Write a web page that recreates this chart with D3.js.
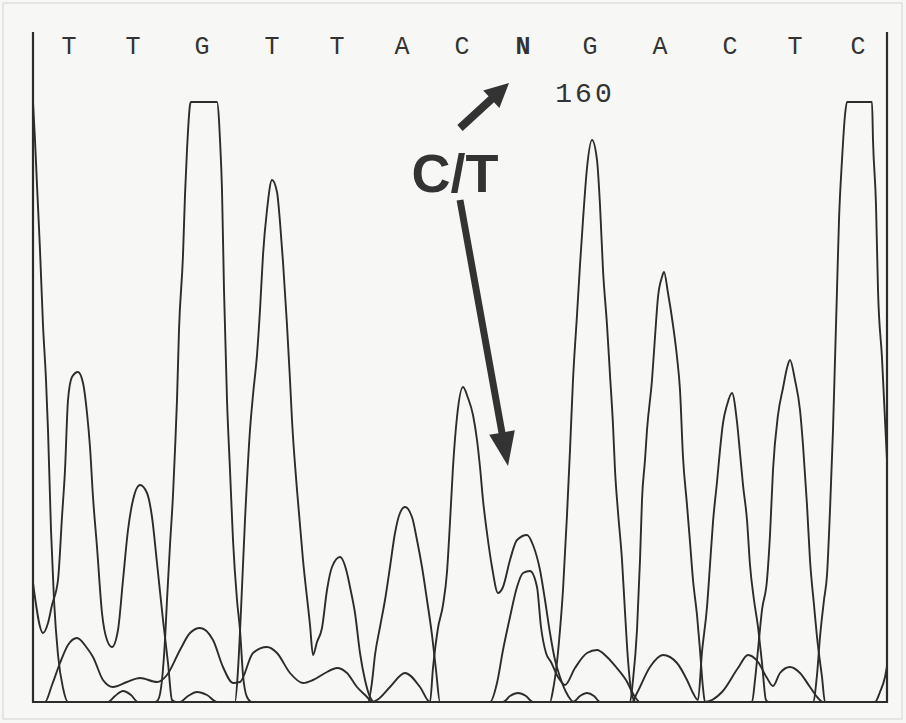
<!DOCTYPE html>
<html>
<head>
<meta charset="utf-8">
<script src="https://cdn.jsdelivr.net/npm/d3@7"></script>
<style>
  body { margin: 0; background: #f7f7f5; }
  svg { display: block; }
</style>
</head>
<body>
<svg id="chart" width="906" height="723"></svg>
<script>
// Called bases along the top and the scan where each one sits
var baseCalls = ["T", "T", "G", "T", "T", "A", "C", "N", "G", "A", "C", "T", "C"];
var basePositions = [36, 100, 169, 239, 304, 369, 429, 490, 557, 627, 697, 762, 825];

// Base number label
var tickLabels = [{ text: "160", scan: 552 }];

// Four dye traces, [scan, intensity]; 600 is the detector ceiling
var traceT = [
  [0, 119], [10, 69], [15, 79], [19, 97], [25, 122], [29, 185], [32, 232], [35, 302],
  [39, 325], [45, 330], [50, 319], [54, 289], [57, 255], [60, 205], [64, 155], [69, 89],
  [74, 62], [79, 55], [85, 72], [90, 122], [95, 172], [100, 202], [107, 217], [114, 209],
  [119, 185], [124, 139], [130, 82], [135, 39], [139, 2], [143, 0],
  [202, 0], [205, 32], [208, 92], [212, 182], [217, 272], [220, 307], [224, 347], [227, 392],
  [230, 447], [234, 492], [239, 522], [244, 510], [247, 480], [250, 440], [254, 377],
  [257, 322], [259, 282], [264, 212], [270, 142], [277, 77], [280, 47], [284, 60], [289, 74],
  [294, 112], [299, 135], [307, 145], [314, 129], [317, 115], [322, 89], [327, 49], [332, 22],
  [337, 5], [341, 0],
  [457, 0], [464, 19], [470, 52], [477, 85], [484, 115], [490, 129], [497, 131], [504, 115],
  [508, 75], [513, 49], [518, 40], [525, 25], [532, 17], [542, 34], [554, 49], [564, 52],
  [574, 45], [583, 35], [593, 22], [602, 5], [607, 0],
  [719, 0], [722, 22], [725, 52], [729, 92], [734, 122], [737, 167], [740, 232], [745, 287],
  [750, 314], [754, 334], [757, 342], [762, 322], [767, 292], [770, 257], [774, 197],
  [777, 142], [781, 97], [784, 65], [789, 25], [792, 0], [854, 0]
];

var traceC = [
  [0, 0], [12, 0], [19, 17], [27, 39], [35, 57], [44, 64], [54, 54], [60, 45], [70, 22],
  [80, 15], [94, 20], [107, 24], [124, 20], [134, 27], [147, 52], [157, 69], [167, 74],
  [180, 62], [190, 35], [200, 19], [207, 20], [220, 49], [234, 55], [244, 49], [257, 29],
  [270, 19], [280, 22], [294, 30], [304, 34], [314, 29], [324, 15], [334, 5], [339, 0],
  [344, 2], [357, 15], [372, 29], [387, 15], [397, 0],
  [400, 34], [405, 74], [410, 97], [414, 130], [417, 180], [420, 235], [424, 285], [430, 315],
  [435, 304], [440, 287], [444, 262], [447, 235], [450, 202], [454, 169], [459, 135],
  [465, 109], [470, 115], [477, 142], [484, 162], [494, 167], [500, 157], [507, 132],
  [512, 102], [517, 69], [522, 42], [527, 25], [533, 10], [541, 0],
  [599, 0], [604, 9], [617, 35], [630, 47], [644, 39], [654, 22], [660, 9], [665, 2],
  [669, 50], [674, 95], [677, 137], [680, 180], [684, 220], [687, 252], [690, 279], [694, 297],
  [699, 309], [704, 280], [707, 249], [710, 217], [714, 182], [717, 137], [721, 102],
  [725, 75], [729, 39], [733, 2], [736, 0],
  [780, 0], [784, 27], [787, 65], [791, 102], [794, 127], [797, 192], [800, 272], [802, 342],
  [804, 412], [806, 482], [809, 542], [812, 587], [814, 600], [839, 600], [840, 562],
  [843, 497], [845, 412], [849, 344], [852, 282], [854, 242], [857, 182]
];

var traceG = [
  [0, 600], [2, 562], [4, 517], [7, 452], [10, 377], [13, 322], [15, 272], [18, 172],
  [21, 102], [25, 47], [30, 14], [35, 0],
  [122, 0], [125, 2], [129, 22], [132, 62], [134, 102], [137, 157], [140, 207], [142, 252],
  [144, 302], [146, 372], [150, 447], [152, 507], [154, 552], [157, 597], [158, 600],
  [184, 600], [186, 582], [187, 562], [189, 512], [191, 412], [194, 302], [197, 232],
  [200, 162], [204, 102], [207, 72], [210, 27], [214, 5], [219, 0],
  [517, 0], [520, 12], [524, 40], [527, 72], [530, 112], [534, 187], [537, 252], [540, 322],
  [544, 387], [547, 437], [550, 482], [554, 534], [559, 562], [564, 542], [567, 497],
  [570, 432], [574, 377], [577, 327], [580, 277], [582, 232], [585, 190], [589, 142],
  [592, 90], [595, 42], [599, 7], [603, 0],
  [672, 0], [689, 10], [705, 34], [715, 47], [725, 40], [734, 24], [740, 16], [747, 29],
  [757, 35], [767, 29], [777, 15], [785, 4], [790, 0], [854, 0]
];

var traceA = [
  [0, 0], [75, 0], [82, 6], [90, 11], [98, 7], [105, 0], [147, 0], [155, 6], [164, 10],
  [174, 7], [184, 0], [335, 0], [339, 20], [342, 47], [347, 75], [352, 102], [357, 135],
  [362, 169], [367, 189], [372, 195], [379, 185], [384, 162], [389, 135], [394, 102],
  [399, 67], [403, 32], [407, 0], [470, 0], [477, 6], [485, 9], [493, 6], [500, 0],
  [540, 0], [547, 6], [554, 9], [561, 6], [567, 0], [597, 0], [600, 22], [604, 72],
  [607, 142], [609, 202], [612, 242], [614, 272], [619, 322], [622, 365], [625, 405],
  [629, 425], [631, 430], [635, 409], [640, 377], [644, 345], [647, 312], [650, 245],
  [654, 197], [657, 160], [660, 122], [664, 87], [667, 52], [670, 14], [672, 0],
  [842, 0], [847, 10], [852, 25], [855, 42]
];

// Annotation: label and two arrows, in [scan, intensity]
var noteLabel = { text: "C/T", scan: 422, value: 510 };
var noteArrows = [
  { from: [427, 574], to: [476, 619], shaft: 8, head: 24, headWidth: 24 },
  { from: [427, 502], to: [475, 236], shaft: 7, head: 34, headWidth: 26 }
];

var ink = "#2c2c2c";
var svg = d3.select("#chart");

// faint border of the scanned page
svg.append("rect")
  .attr("x", 3).attr("y", 3).attr("width", 899).attr("height", 716)
  .attr("fill", "#f7f7f5").attr("stroke", "#d4d4d4").attr("stroke-width", 1);

var x = d3.scaleLinear().domain([0, 854]).range([33, 887]);
var y = d3.scaleLinear().domain([0, 600]).range([702, 102]);
var yTop = 670;

svg.append("clipPath").attr("id", "plot-clip")
  .append("rect")
  .attr("x", x(0)).attr("y", y(yTop))
  .attr("width", x(854) - x(0)).attr("height", y(0) - y(yTop) + 1);

var line = d3.line()
  .x(function(d) { return x(d[0]); })
  .y(function(d) { return y(d[1]); })
  .curve(d3.curveMonotoneX);

var traces = svg.append("g").attr("clip-path", "url(#plot-clip)");
[traceA, traceC, traceG, traceT].forEach(function(t) {
  traces.append("path")
    .attr("d", line(t))
    .attr("fill", "none")
    .attr("stroke", ink)
    .attr("stroke-width", 1.9)
    .attr("stroke-linejoin", "miter");
});

// frame: two sides and the baseline, no top
var frame = svg.append("g")
  .attr("stroke", ink).attr("stroke-width", 2.2).attr("fill", "none");
frame.append("path")
  .attr("d", "M" + x(0) + "," + y(yTop) + "V" + y(0) + "H" + x(854) + "V" + y(yTop));

// base calls
svg.append("g").selectAll("text")
  .data(baseCalls)
  .join("text")
  .attr("x", function(d, i) { return x(basePositions[i]); })
  .attr("y", y(648))
  .attr("text-anchor", "middle")
  .attr("font-family", "Liberation Mono, DejaVu Sans Mono, monospace")
  .attr("font-size", 25)
  .attr("font-weight", function(d) { return d === "N" ? "bold" : "normal"; })
  .attr("fill", "#333")
  .text(function(d) { return d; });

svg.append("g").selectAll("text")
  .data(tickLabels)
  .join("text")
  .attr("x", function(d) { return x(d.scan); })
  .attr("y", y(600))
  .attr("text-anchor", "middle")
  .attr("font-family", "Liberation Mono, DejaVu Sans Mono, monospace")
  .attr("font-size", 28)
  .attr("letter-spacing", 3)
  .attr("fill", "#333")
  .text(function(d) { return d.text; });

svg.append("text")
  .attr("x", x(noteLabel.scan))
  .attr("y", y(noteLabel.value))
  .attr("text-anchor", "middle")
  .attr("font-family", "Liberation Sans, Arial, sans-serif")
  .attr("font-size", 54)
  .attr("font-weight", "bold")
  .attr("fill", "#333")
  .text(noteLabel.text);

// arrows drawn as one polygon each
function arrowPath(a) {
  var x0 = x(a.from[0]), y0 = y(a.from[1]);
  var x1 = x(a.to[0]), y1 = y(a.to[1]);
  var dx = x1 - x0, dy = y1 - y0;
  var len = Math.sqrt(dx * dx + dy * dy);
  var ux = dx / len, uy = dy / len;
  var px = -uy, py = ux;
  var bx = x1 - ux * a.head, by = y1 - uy * a.head;
  var s = a.shaft / 2, h = a.headWidth / 2;
  var pts = [
    [x0 + px * s, y0 + py * s],
    [bx + px * s, by + py * s],
    [bx + px * h, by + py * h],
    [x1, y1],
    [bx - px * h, by - py * h],
    [bx - px * s, by - py * s],
    [x0 - px * s, y0 - py * s]
  ];
  return "M" + pts.map(function(p) { return p[0].toFixed(1) + "," + p[1].toFixed(1); }).join("L") + "Z";
}

svg.append("g").selectAll("path")
  .data(noteArrows)
  .join("path")
  .attr("d", arrowPath)
  .attr("fill", "#333");
</script>
</body>
</html>
